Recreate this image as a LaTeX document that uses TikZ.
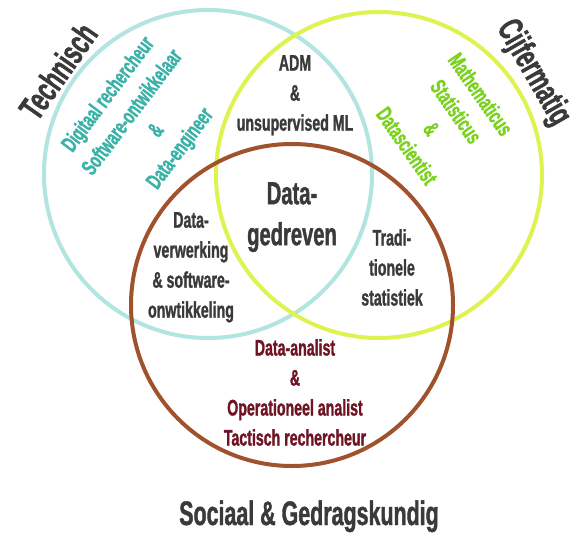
\documentclass[tikz,border=0pt]{standalone}
\usepackage{fontspec}
\newfontfamily\cond{Liberation Sans Bold}[FakeStretch=0.63, FakeBold=1.2]
\definecolor{cyanc}{HTML}{B2E4E0}
\definecolor{yellowc}{HTML}{DEF250}
\definecolor{brownc}{HTML}{A0522D}
\definecolor{tealtxt}{HTML}{3AB2A8}
\definecolor{greentxt}{HTML}{7AD21E}
\definecolor{redtxt}{HTML}{6E1423}
\definecolor{darktxt}{HTML}{3A3A3A}
\tikzset{
  ring/.style={line width=4pt},
  body/.style={font=\cond\fontsize{22.5}{30}\selectfont, text=darktxt, align=center, inner sep=0pt},
  big/.style={font=\cond\fontsize{32}{41}\selectfont, text=darktxt, align=center, inner sep=0pt},
  title/.style={font=\cond\fontsize{34}{40}\selectfont, text=darktxt, inner sep=0pt},
  sidetitle/.style={title, font=\cond\fontsize{35}{40}\selectfont},
}
\begin{document}
\begin{tikzpicture}[x=1pt,y=-1pt]
\fill[white] (0,0) rectangle (580,538);
\useasboundingbox (0,0) rectangle (580,538);
% circles
\draw[ring, cyanc] (208,174) circle[radius=164pt];
\draw[ring, yellowc] (379,175) circle[radius=163pt];
\draw[ring, brownc] (292,305) circle[radius=161pt];
% outer titles
\node[sidetitle, rotate=55] (tech) at (58,71) {Technisch};
\node[sidetitle, rotate=-60] (cijf) at (533,73) {Cijfermatig};
\node[title, anchor=base] (soc) at (309,525) {Sociaal \& Gedragskundig};
% rotated role blocks
\node[body, text=tealtxt, rotate=53] (teal) at (145,122) {Digitaal rechercheur\\Software-ontwikkelaar\\\&\\Data-engineer};
\node[body, text=greentxt, rotate=-55] (green) at (444,120) {Mathematicus\\Statisticus\\\&\\Datascientist};
% intersections
\node[body, anchor=north] (adm) at (295,55) {ADM\\\&\\unsupervised ML};
\node[big, anchor=north] (dg) at (292,182) {Data-\\gedreven};
\node[body, anchor=north] (dv) at (191,212) {Data-\\verwerking\\\& software-\\onwtikkeling};
\node[body, anchor=north] (ts) at (392,229) {Tradi-\\tionele\\statistiek};
\node[body, text=redtxt, anchor=north] (da) at (295,339) {Data-analist\\\&\\Operationeel analist\\Tactisch rechercheur};
\end{tikzpicture}
\end{document}
